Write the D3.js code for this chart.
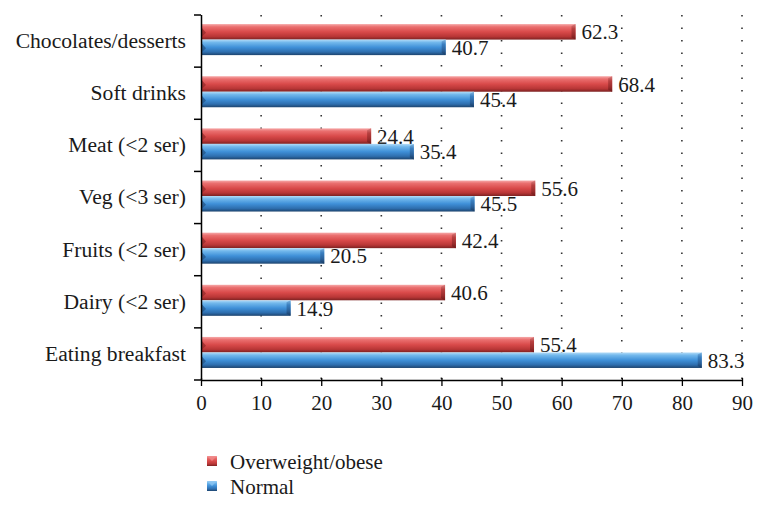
<!DOCTYPE html>
<html>
<head>
<meta charset="utf-8">
<script src="https://cdn.jsdelivr.net/npm/d3@7/dist/d3.min.js"></script>
<style>
  html, body { margin: 0; padding: 0; background: #ffffff; }
  svg text { font-family: "Times New Roman", "Liberation Serif", Tinos, "DejaVu Serif", "Noto Serif", serif; fill: #1a1a1a; }
</style>
</head>
<body>
<svg id="chart" width="766" height="512"></svg>
<script>
// ---- data ----
const categories = ["Chocolates/desserts", "Soft drinks", "Meat (<2 ser)", "Veg (<3 ser)", "Fruits (<2 ser)", "Dairy (<2 ser)", "Eating breakfast"];
const seriesNames = ["Overweight/obese", "Normal"];
// bar lengths as drawn in the reference
const overweightValues = [62.3, 68.4, 28.3, 55.6, 42.4, 40.6, 55.4];
const normalValues = [40.7, 45.4, 35.4, 45.5, 20.5, 14.9, 83.3];
// printed data labels
const overweightLabels = ["62.3", "68.4", "24.4", "55.6", "42.4", "40.6", "55.4"];
const normalLabels = ["40.7", "45.4", "35.4", "45.5", "20.5", "14.9", "83.3"];
const xTicks = [0, 10, 20, 30, 40, 50, 60, 70, 80, 90];

// ---- layout ----
const svg = d3.select("#chart");
const pLeft = 201, pRight = 742, pTop = 15, pBottom = 380;
const fontSize = 21;
const catFontSize = 21.6;
const serif = "'Times New Roman', 'Liberation Serif', Tinos, 'DejaVu Serif', 'Noto Serif', serif";

const x = d3.scaleLinear().domain([0, 90]).range([pLeft, pRight]);
const y0 = d3.scaleBand().domain(categories).range([pTop, pBottom]).padding(0);
const y1 = d3.scaleBand().domain(seriesNames).range([0, y0.bandwidth()])
  .paddingInner(0).paddingOuter(0.68).align(0.43);

// ---- gradients ----
const defs = svg.append("defs");
const palettes = {
  red: { body: ["#f6a9a9", "#ea6f6f", "#d94a4a", "#b83636", "#7c2222"], cap: ["#d88080", "#b84040", "#9a2c2c", "#6e1a1a"] },
  blue: { body: ["#b3dcf8", "#72b8ec", "#3f90d8", "#2e6eae", "#1d446e"], cap: ["#7fb4de", "#3a7fc0", "#2a5f98", "#183a60"] }
};
Object.entries(palettes).forEach(([k, p]) => {
  const g = defs.append("linearGradient").attr("id", "g-" + k).attr("x1", 0).attr("y1", 0).attr("x2", 0).attr("y2", 1);
  [0, 0.18, 0.5, 0.8, 1].forEach((o, i) => g.append("stop").attr("offset", o).attr("stop-color", p.body[i]));
  const c = defs.append("linearGradient").attr("id", "c-" + k).attr("x1", 0).attr("y1", 0).attr("x2", 0).attr("y2", 1);
  [0, 0.3, 0.7, 1].forEach((o, i) => c.append("stop").attr("offset", o).attr("stop-color", p.cap[i]));
});
const colorKey = { "Overweight/obese": "red", "Normal": "blue" };

// ---- grid (dotted verticals) ----
svg.append("g").selectAll("line").data(xTicks.filter(d => d > 0)).join("line")
  .attr("x1", d => x(d)).attr("x2", d => x(d))
  .attr("y1", pTop).attr("y2", pBottom)
  .attr("stroke", "#333").attr("stroke-width", 1.6)
  .attr("stroke-dasharray", "1.6,10.9");

// ---- bars ----
const rows = categories.map((c, i) => ({
  cat: c,
  items: [
    { s: seriesNames[0], v: overweightValues[i], label: overweightLabels[i] },
    { s: seriesNames[1], v: normalValues[i], label: normalLabels[i] }
  ]
}));

const grp = svg.append("g").selectAll("g").data(rows).join("g")
  .attr("transform", d => `translate(0,${y0(d.cat)})`);

const bar = grp.selectAll("g.bar").data(d => d.items).join("g").attr("class", "bar");
const bh = y1.bandwidth();
bar.append("rect")
  .attr("x", x(0)).attr("y", d => y1(d.s))
  .attr("width", d => x(d.v) - x(0)).attr("height", bh)
  .attr("fill", d => `url(#g-${colorKey[d.s]})`);
// right end cap
bar.append("path")
  .attr("d", d => {
    const xe = x(d.v), yt = y1(d.s);
    return `M${xe - 4},${yt + 2} L${xe},${yt} L${xe},${yt + bh} L${xe - 4},${yt + bh - 2} Z`;
  })
  .attr("fill", d => `url(#c-${colorKey[d.s]})`);
// left bevel
bar.append("path")
  .attr("d", d => {
    const xs = x(0), yt = y1(d.s);
    return `M${xs},${yt + 3} L${xs + 5},${yt + bh / 2 + 1} L${xs},${yt + bh - 2} Z`;
  })
  .attr("fill", d => colorKey[d.s] === "red" ? "#8e2828" : "#23507e")
  .attr("opacity", 0.7);

bar.append("text")
  .attr("x", d => x(d.v) + 6)
  .attr("y", d => y1(d.s) + bh / 2)
  .attr("dy", "0.36em")
  .attr("font-family", serif)
  .attr("font-size", fontSize)
  .text(d => d.label);

// ---- axes ----
const xAxis = d3.axisBottom(x).tickValues(xTicks).tickSize(6).tickPadding(9);
const gx = svg.append("g").attr("transform", `translate(0,${pBottom})`).call(xAxis);
gx.attr("font-family", serif);
gx.select(".domain").attr("stroke", "#000").attr("stroke-width", 1.5).attr("d", `M${pLeft},0.5H${pRight}`);
gx.selectAll(".tick line").attr("stroke", "#000").attr("stroke-width", 1.3).attr("y1", -2);
gx.selectAll(".tick text").attr("font-size", fontSize).attr("font-family", serif).attr("fill", "#1a1a1a");

const yAxis = d3.axisLeft(y0).tickSize(0).tickPadding(15);
const gy = svg.append("g").attr("transform", `translate(${pLeft},0)`).call(yAxis);
gy.attr("font-family", serif);
gy.select(".domain").attr("stroke", "#000").attr("stroke-width", 1.5).attr("d", `M0.5,${pTop}V${pBottom}`);
gy.selectAll(".tick text").attr("font-size", catFontSize).attr("font-family", serif).attr("fill", "#1a1a1a");

// band boundary ticks on y axis
const boundaries = categories.map(c => y0(c)).concat([pBottom]);
svg.append("g").selectAll("line").data(boundaries).join("line")
  .attr("x1", pLeft - 7).attr("x2", pLeft)
  .attr("y1", d => d).attr("y2", d => d)
  .attr("stroke", "#000").attr("stroke-width", 1.5);

// ---- legend ----
const legend = svg.append("g").selectAll("g").data(seriesNames).join("g")
  .attr("transform", (d, i) => `translate(207,${456 + i * 25})`);
legend.append("rect").attr("width", 10).attr("height", 10)
  .attr("fill", d => `url(#g-${colorKey[d]})`);
legend.append("path").attr("d", "M0,0 L5,5 L10,0 Z")
  .attr("fill", d => colorKey[d] === "red" ? "#f08a8a" : "#8cc6f2").attr("opacity", 0.8);
legend.append("text").attr("x", 23).attr("y", 5).attr("dy", "0.36em")
  .attr("font-family", serif)
  .attr("font-size", fontSize).text(d => d);
</script>
</body>
</html>
